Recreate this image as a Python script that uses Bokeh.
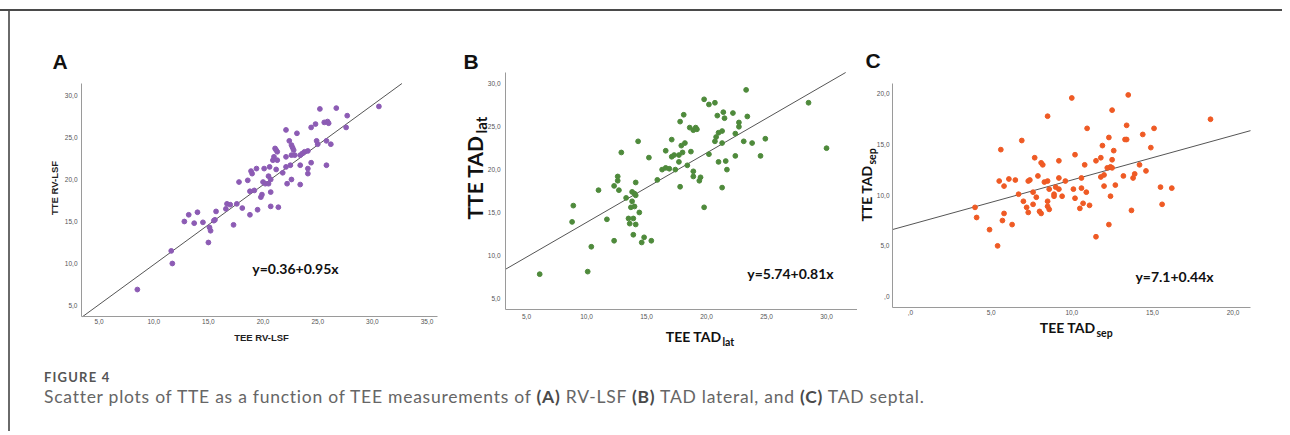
import math
from bokeh.plotting import figure
from bokeh.models import Range1d, FixedTicker, Label, Div
from bokeh.layouts import row, column
from bokeh.embed import file_html
from bokeh.resources import INLINE

# ---------------- data ----------------
# Panel A: RV-LSF (TEE on x, TTE on y)
a_tee = [8.5, 11.6, 11.7, 12.8, 13.2, 13.7, 14.0, 14.5, 15.1, 15.2, 15.0, 15.5, 15.6, 15.7,
         16.6, 16.7, 17.0, 17.3, 17.6, 17.8, 18.1, 18.6, 18.8, 18.9, 19.0, 18.8, 19.4, 19.5,
         19.8, 19.9, 20.0, 20.1, 20.2, 20.5, 20.5, 20.7, 20.6, 20.7, 20.7, 20.9, 21.0, 21.1,
         21.2, 21.3, 21.2, 21.3, 21.4, 21.8, 22.1, 22.1, 22.1, 22.2, 22.4, 22.5, 22.6, 22.6,
         22.7, 22.8, 22.6, 22.9, 23.1, 23.4, 23.4, 23.4, 23.6, 23.8, 24.1, 24.1, 24.1, 24.4,
         24.4, 24.8, 24.9, 25.0, 25.2, 25.6, 25.8, 25.8, 25.9, 26.0, 26.2, 26.7, 27.6, 27.7,
         30.6, 19.2]
a_tte = [6.9, 11.5, 10.0, 15.0, 15.8, 14.8, 16.1, 14.9, 14.3, 13.9, 12.5, 15.1, 15.2, 16.2,
         16.5, 17.1, 17.0, 14.6, 17.1, 19.7, 16.6, 19.9, 18.6, 21.0, 20.7, 15.8, 21.3, 16.4,
         17.9, 18.2, 19.7, 21.3, 19.5, 19.5, 20.4, 20.0, 21.5, 18.5, 16.8, 22.3, 22.7, 23.7,
         23.5, 23.3, 21.2, 22.3, 16.7, 20.8, 21.5, 22.7, 25.9, 19.5, 24.6, 21.7, 22.9, 24.1,
         23.8, 23.5, 20.0, 22.9, 25.5, 22.9, 19.4, 21.7, 23.1, 23.3, 20.7, 21.3, 23.4, 26.2,
         22.0, 26.6, 24.6, 24.2, 28.4, 26.8, 21.7, 24.6, 26.9, 26.7, 24.2, 28.5, 26.2, 27.6,
         28.7, 18.7]
a_fit = (0.36, 0.95)

# Panel B: TAD lateral
b_tee = [6.1, 8.8, 8.9, 10.1, 10.4, 11.0, 11.7, 12.3, 12.3, 12.6, 12.6, 12.7, 12.9, 13.3,
         13.5, 13.6, 13.7, 13.8, 13.8, 13.9, 13.9, 14.0, 14.0, 14.1, 14.1, 14.1, 14.3, 14.4,
         14.6, 14.8, 15.2, 15.4, 15.9, 16.3, 16.6, 16.6, 16.9, 17.1, 17.1, 17.3, 17.4, 17.7,
         17.7, 17.8, 17.8, 17.9, 18.0, 18.1, 18.2, 18.4, 18.6, 18.7, 18.9, 18.9, 18.9, 19.1,
         19.2, 19.4, 19.5, 19.8, 19.8, 20.2, 20.2, 20.7, 20.7, 20.8, 20.9, 21.0, 21.0, 21.3,
         21.3, 21.3, 21.4, 21.5, 21.6, 21.7, 22.2, 22.4, 22.4, 22.7, 22.7, 23.1, 23.3, 23.4,
         23.8, 24.5, 24.9, 28.5, 30.0]
b_tte = [7.8, 13.9, 15.8, 8.1, 11.0, 17.6, 14.2, 11.7, 18.1, 18.7, 19.2, 17.6, 22.0, 16.7,
         14.3, 13.7, 15.6, 16.3, 17.4, 12.4, 14.3, 17.2, 15.7, 17.0, 18.5, 13.6, 23.3, 15.0,
         11.5, 12.1, 21.4, 11.7, 18.8, 20.0, 22.2, 20.2, 20.1, 23.5, 21.5, 21.7, 20.0, 20.9,
         21.7, 25.6, 18.0, 22.8, 22.0, 26.4, 23.1, 20.5, 24.9, 22.1, 19.2, 19.8, 24.6, 24.9,
         24.7, 18.7, 19.1, 28.2, 15.6, 27.6, 21.8, 27.8, 23.3, 23.8, 26.3, 20.9, 24.3, 24.5,
         23.1, 17.9, 26.7, 26.0, 21.0, 20.0, 26.6, 21.6, 24.2, 25.5, 25.0, 23.3, 29.3, 26.2,
         23.1, 21.6, 23.6, 27.8, 22.5]
b_fit = (5.74, 0.81)

# Panel C: TAD septal
c_tee = [4.0, 4.1, 4.9, 5.4, 5.5, 5.6, 5.7, 5.8, 5.8, 6.1, 6.3, 6.5, 6.7, 6.9, 7.0, 7.2,
         7.3, 7.3, 7.4, 7.6, 7.6, 7.7, 7.8, 7.9, 8.0, 8.1, 8.1, 8.2, 8.3, 8.5, 8.5, 8.5, 8.5,
         8.6, 8.6, 8.9, 8.9, 9.0, 9.2, 9.2, 9.2, 9.4, 9.6, 10.0, 10.1, 10.2, 10.2, 10.5, 10.6,
         10.6, 10.7, 10.8, 10.9, 10.95, 11.1, 11.5, 11.5, 11.8, 11.8, 11.9, 12.0, 12.0, 12.2,
         12.3, 12.3, 12.4, 12.4, 12.5, 12.5, 12.5, 12.6, 12.7, 13.2, 13.3, 13.4, 13.4, 13.5,
         13.7, 13.8, 13.9, 14.2, 14.4, 14.6, 14.9, 15.1, 15.5, 15.6, 16.2, 18.6]
c_tte = [8.8, 7.8, 6.6, 5.0, 11.4, 14.5, 7.5, 8.2, 10.9, 11.6, 7.1, 11.5, 10.1, 15.4, 9.4,
         8.8, 11.4, 8.3, 11.5, 10.3, 9.1, 13.7, 9.8, 11.9, 8.4, 8.2, 13.2, 13.0, 11.3, 9.4,
         11.4, 8.9, 17.8, 10.6, 8.6, 10.1, 9.9, 10.8, 11.7, 10.6, 13.4, 9.9, 11.4, 19.6, 10.6,
         14.0, 9.7, 8.7, 10.7, 11.7, 9.2, 13.0, 10.3, 16.6, 9.0, 5.9, 13.4, 13.7, 11.8, 14.9,
         10.9, 12.0, 12.7, 15.7, 7.1, 12.8, 9.9, 12.7, 18.4, 13.5, 14.4, 11.0, 11.9, 15.5,
         16.9, 15.5, 19.9, 8.5, 11.7, 12.1, 13.0, 16.0, 12.4, 14.7, 16.6, 10.8, 9.1, 10.7, 17.5]
c_fit = (7.1, 0.44)

a_xticks = [5, 10, 15, 20, 25, 30, 35]
a_yticks = [5, 10, 15, 20, 25, 30]
b_xticks = [5, 10, 15, 20, 25, 30]
b_yticks = [5, 10, 15, 20, 25, 30]
c_xticks = [0, 5, 10, 15, 20]
c_yticks = [0, 5, 10, 15, 20]


def tick_label(v):
    return ",0" if v == 0 else f"{v},0"


TICK_FONT = "Liberation Sans"
AXIS_GRAY = "#9a9a9a"
LINE_GRAY = "#555555"


class Panel:
    """A figure whose frame fills the whole figure; the axes sit at fixed data
    locations (with bounds) so that the panel letter and axis titles can be
    placed as ordinary labels inside the frame."""

    def __init__(self, left, top, width, height, box, xr, yr, xticks, yticks):
        bl, bt, br, bb = box  # axes box in page pixels
        self.left, self.top, self.w, self.h = left, top, width, height
        self.xr, self.yr = xr, yr
        ux = (br - bl) / (xr[1] - xr[0])
        uy = (bb - bt) / (yr[1] - yr[0])
        self.X = (xr[0] - (bl - left) / ux, xr[1] + (left + width - br) / ux)
        self.Y = (yr[0] - (top + height - bb) / uy, yr[1] + (bt - top) / uy)
        p = figure(width=width, height=height, x_range=Range1d(*self.X),
                   y_range=Range1d(*self.Y), title=None,
                   output_backend="svg", toolbar_location=None, tools="",
                   min_border_left=0, min_border_right=0, min_border_top=0,
                   min_border_bottom=0, margin=0)
        p.outline_line_color = None
        p.xgrid.visible = False
        p.ygrid.visible = False
        p.background_fill_color = "white"
        p.border_fill_color = "white"
        p.xaxis.fixed_location = yr[0]
        p.xaxis.bounds = xr
        p.yaxis.fixed_location = xr[0]
        p.yaxis.bounds = yr
        for ax, ticks in ((p.xaxis[0], xticks), (p.yaxis[0], yticks)):
            ax.ticker = FixedTicker(ticks=ticks)
            ax.major_label_overrides = {t: tick_label(t) for t in ticks}
            ax.major_tick_line_color = None
            ax.minor_tick_line_color = None
            ax.major_tick_out = 0
            ax.major_tick_in = 0
            ax.minor_tick_out = 0
            ax.minor_tick_in = 0
            ax.axis_line_color = AXIS_GRAY
            ax.axis_line_width = 1
            ax.major_label_text_font = TICK_FONT
            ax.major_label_text_font_size = "6.5px"
            ax.major_label_text_color = "#555555"
        self.p = p

    def d(self, px, py):
        x = self.X[0] + (px - self.left) / self.w * (self.X[1] - self.X[0])
        y = self.Y[1] - (py - self.top) / self.h * (self.Y[1] - self.Y[0])
        return x, y

    def text(self, txt, px, py, size, font="Lato", style="bold", align="left",
             angle=0.0, color="#111111"):
        """Text anchored at the vertical middle of its line box."""
        x, y = self.d(px, py)
        self.p.add_layout(Label(x=x, y=y, text=txt, text_font=font, text_font_style=style,
                                text_font_size=f"{size}px", text_color=color,
                                text_align=align, text_baseline="middle", angle=angle))

    def fit(self, coef):
        a, b = coef
        lo = (self.yr[0] - a) / b
        hi = (self.yr[1] - a) / b
        x0 = max(self.xr[0], lo)
        x1 = min(self.xr[1], hi)
        self.p.line([x0, x1], [a + b * x0, a + b * x1], line_color=LINE_GRAY, line_width=1)


ROW_TOP = 11  # page y where the row of panels starts (below the top rule)

# ---------------- panel A ----------------
A = Panel(10, ROW_TOP, 440, 339, (81, 83, 437, 316), (3.39, 35.96), (3.69, 31.43),
          a_xticks, a_yticks)
A.fit(a_fit)
A.p.scatter(a_tee, a_tte, size=4.8, fill_color="#8c5bb4", line_color="#8c5bb4")
A.p.xaxis.major_label_standoff = 2
A.p.yaxis.major_label_standoff = 4
A.text("TEE RV-LSF", 261, 337, 9.5, font="Liberation Sans", align="center", color="#222222")
A.text("TTE RV-LSF", 53.5, 187.5, 9.5, font="Liberation Sans", align="center",
       angle=math.pi / 2, color="#222222")
A.text("A", 52, 60.5, 21, font="Liberation Sans")
A.text("y=0.36+0.95x", 295, 268, 14, align="center")

# ---------------- panel B ----------------
B = Panel(450, ROW_TOP, 407, 339, (505, 72, 857, 309), (3.25, 32.58), (3.68, 31.33),
          b_xticks, b_yticks)
B.fit(b_fit)
B.p.scatter(b_tee, b_tte, size=4.8, fill_color="#4e8a3b", line_color="#4e8a3b")
B.p.xaxis.major_label_standoff = 4
B.p.yaxis.major_label_standoff = 5
B.text("TEE TAD", 721, 335.5, 14, align="right")
B.text("lat", 722, 341, 10.5)
B.text("TTE TAD", 474, 135, 21, align="right", angle=math.pi / 2)
B.text("lat", 480, 133, 15, angle=math.pi / 2)
B.text("B", 463, 60.5, 21, font="Liberation Sans")
B.text("y=5.74+0.81x", 790, 272.5, 14, align="center")

# ---------------- panel C ----------------
C = Panel(857, ROW_TOP, 425, 339, (892, 83, 1250, 307), (-1.116, 21.08), (-1.086, 21.03),
          c_xticks, c_yticks)
C.fit(c_fit)
C.p.scatter(c_tee, c_tte, size=4.8, fill_color="#ef5a24", line_color="#ef5a24")
C.p.xaxis.major_label_standoff = 2
C.p.yaxis.major_label_standoff = 3
C.text("TEE TAD", 1095, 326.5, 14, align="right")
C.text("sep", 1096, 332, 10.5)
C.text("TTE TAD", 866, 165, 14, align="right", angle=math.pi / 2)
C.text("sep", 871, 164, 10.5, angle=math.pi / 2)
C.text("C", 865, 60, 21, font="Liberation Sans")
C.text("y=7.1+0.44x", 1174, 275.8, 14, align="center")

# ---------------- frame & caption ----------------
# page body has no margin: the top rule sits at y 9-11, the left rule at x 8-10
top_rule = Div(text="", width=1282, height=11, margin=0,
               styles={"border-bottom": "2px solid #4a4a4a", "box-sizing": "border-box"})
left_rule = Div(text="", width=10, height=420, margin=0,
                styles={"border-right": "2px solid #6a6a6a", "box-sizing": "border-box"})

caption_html = (
    '<div style="position:relative;width:1272px;height:77px;font-family:Lato,sans-serif;">'
    '<div style="position:absolute;left:34px;top:19.5px;font-size:13px;line-height:15.6px;'
    'font-weight:700;color:#555;letter-spacing:1.2px;white-space:nowrap;">FIGURE 4</div>'
    '<div style="position:absolute;left:34px;top:36px;font-size:17.5px;line-height:21px;'
    'color:#666;letter-spacing:0.75px;white-space:nowrap;">'
    'Scatter plots of TTE as a function of TEE measurements of '
    '<b style="color:#4a4a4a">(A)</b> RV-LSF <b style="color:#4a4a4a">(B)</b> TAD lateral, and '
    '<b style="color:#4a4a4a">(C)</b> TAD septal.</div></div>'
)
caption = Div(text=caption_html, width=1272, height=77, margin=0)

layout = column(top_rule, row(left_rule, column(row(A.p, B.p, C.p), caption)))

open("out.html", "w").write(file_html(layout, INLINE))
